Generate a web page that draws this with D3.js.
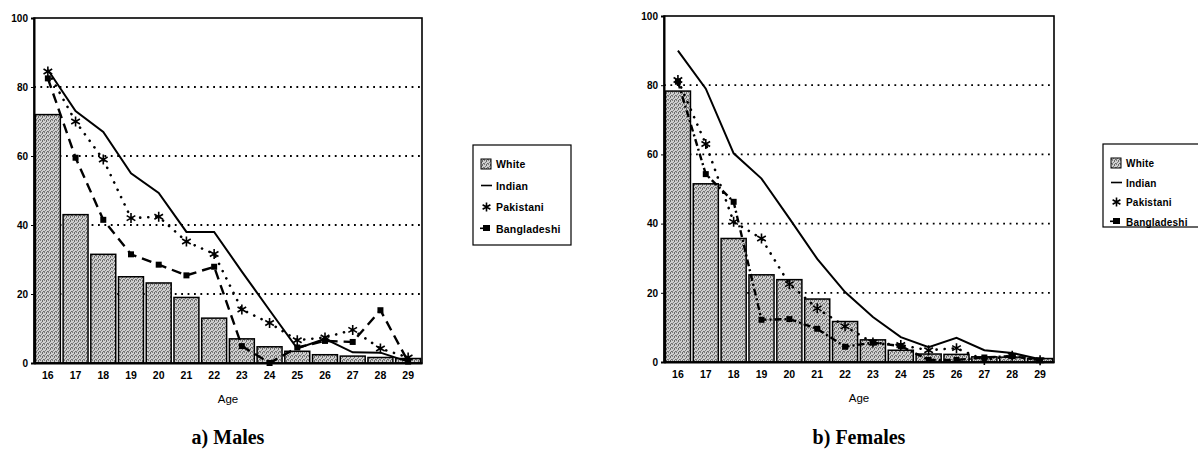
<!DOCTYPE html>
<html>
<head>
<script src="https://cdnjs.cloudflare.com/ajax/libs/d3/7.8.5/d3.min.js"></script>
<style>
  body { margin: 0; background: #fff; }
  svg { display: block; }
  .tick text { font-family: "Liberation Sans", Arial, sans-serif; font-weight: bold; }
</style>
</head>
<body>
<script>
// ages on the x axis
var ages = [16, 17, 18, 19, 20, 21, 22, 23, 24, 25, 26, 27, 28, 29];
var yTicks = [0, 20, 40, 60, 80, 100];
var seriesNames = ["White", "Indian", "Pakistani", "Bangladeshi"];

// a) Males
var maleWhite       = [72, 43, 31.5, 25, 23.2, 19, 13, 7, 4.7, 3.4, 2.4, 2, 1.6, 1.3];
var maleIndian      = [85, 73, 67, 55, 49.3, 38, 38, 26.5, 15.3, 4.2, 7, 3.1, 3, 0.4];
var malePakistani   = [84.5, 70, 59, 42, 42.4, 35.2, 31.6, 15.5, 11.6, 6.6, 7.4, 9.6, 4.2, 1.6];
var maleBangladeshi = [82.5, 59.5, 41.5, 31.5, 28.5, 25.4, 27.9, 4.9, 0, 4.5, 6.4, 6.1, 15.3, 0.4];

// b) Females
var femaleWhite       = [78.3, 51.5, 35.7, 25.2, 23.8, 18.2, 11.7, 6.4, 3.4, 2.3, 2.2, 1.5, 1.4, 1];
var femaleIndian      = [90, 79, 60.3, 53, 41.5, 29.8, 20.2, 13, 7.2, 4.3, 7, 3.4, 2.6, 0.8];
var femalePakistani   = [81.5, 63, 40.5, 35.7, 22.5, 15.5, 10.3, 5.6, 4.9, 3.4, 4, 0.6, 1.8, 0.5];
var femaleBangladeshi = [81, 54.3, 46.3, 12.2, 12.4, 9.6, 4.4, 5.6, 4.6, 0.6, 0.6, 1.3, 1.7, 0.5];

var svg = d3.select("body").append("svg")
  .attr("width", 1198).attr("height", 456);

// stippled grey fill for the bars
var defs = svg.append("defs");
var pat = defs.append("pattern").attr("id", "stipple")
  .attr("width", 4).attr("height", 4).attr("patternUnits", "userSpaceOnUse");
pat.append("rect").attr("width", 4).attr("height", 4).attr("fill", "#cfcfcf");
[[0, 0], [2, 1], [1, 2], [3, 3], [0, 3], [2, 0]].forEach(function(p, i) {
  pat.append("rect").attr("x", p[0]).attr("y", p[1]).attr("width", 1).attr("height", 1)
    .attr("fill", i % 2 ? "#6a6a6a" : "#808080");
});

function asterisk(g, x, y, r) {
  var p = d3.path();
  for (var i = 0; i < 3; i++) {
    var a = Math.PI / 2 + i * Math.PI / 3;
    p.moveTo(x - r * Math.cos(a), y - r * Math.sin(a));
    p.lineTo(x + r * Math.cos(a), y + r * Math.sin(a));
  }
  g.append("path").attr("d", p.toString()).attr("stroke", "#000").attr("stroke-width", 1.6).attr("fill", "none");
}

function drawPanel(o) {
  var x = d3.scaleBand().domain(ages).range([o.left, o.right]).paddingInner(0.1).paddingOuter(0.05);
  var y = d3.scaleLinear().domain([0, 100]).range([o.bottom, o.top]);
  var cx = function(d, i) { return x(ages[i]) + x.bandwidth() / 2; };
  var g = svg.append("g");

  // dotted gridlines
  g.selectAll(".grid").data([20, 40, 60, 80]).enter().append("line")
    .attr("x1", o.left).attr("x2", o.right)
    .attr("y1", function(d) { return y(d); }).attr("y2", function(d) { return y(d); })
    .attr("stroke", "#000").attr("stroke-width", 1.8).attr("stroke-dasharray", "1.8 4.6");

  // bars
  g.selectAll(".bar").data(o.white).enter().append("rect")
    .attr("x", function(d, i) { return x(ages[i]); })
    .attr("y", function(d) { return y(d); })
    .attr("width", x.bandwidth())
    .attr("height", function(d) { return y(0) - y(d); })
    .attr("fill", "url(#stipple)").attr("stroke", "#000").attr("stroke-width", 1.5);

  var line = d3.line().x(cx).y(function(d) { return y(d); });

  g.append("path").datum(o.indian).attr("d", line)
    .attr("fill", "none").attr("stroke", "#000").attr("stroke-width", 2);

  g.append("path").datum(o.pakistani).attr("d", line)
    .attr("fill", "none").attr("stroke", "#000").attr("stroke-width", 2.6)
    .attr("stroke-linecap", "round").attr("stroke-dasharray", "0.1 8");
  o.pakistani.forEach(function(d, i) { asterisk(g, cx(d, i), y(d), 5); });

  g.append("path").datum(o.bangladeshi).attr("d", line)
    .attr("fill", "none").attr("stroke", "#000").attr("stroke-width", 2.4)
    .attr("stroke-dasharray", o.dash);
  g.selectAll(".sq").data(o.bangladeshi).enter().append("rect")
    .attr("x", function(d, i) { return cx(d, i) - 3; })
    .attr("y", function(d) { return y(d) - 3; })
    .attr("width", 6).attr("height", 6).attr("fill", "#000");

  // frame
  g.append("rect").attr("x", o.left).attr("y", o.top)
    .attr("width", o.right - o.left).attr("height", o.bottom - o.top)
    .attr("fill", "none").attr("stroke", "#000").attr("stroke-width", 1.6);

  // axes
  var ya = g.append("g").attr("transform", "translate(" + o.left + ",0)")
    .call(d3.axisLeft(y).tickValues(yTicks).tickSize(3).tickPadding(3));
  ya.select(".domain").attr("stroke-width", 2);
  ya.selectAll("text").style("font-size", "10px");

  var xa = g.append("g").attr("transform", "translate(0," + o.bottom + ")")
    .call(d3.axisBottom(x).tickSize(0).tickPadding(9));
  xa.select(".domain").attr("stroke-width", 2);
  xa.selectAll("text").style("font-size", "10.5px");

  g.append("text").attr("x", (o.left + o.right) / 2).attr("y", o.bottom + 40)
    .attr("text-anchor", "middle")
    .style("font-family", "Liberation Sans, Arial, sans-serif").style("font-size", "11.5px")
    .text("Age");

  g.append("text").attr("x", (o.left + o.right) / 2).attr("y", 444)
    .attr("text-anchor", "middle")
    .style("font-family", "Liberation Serif, Times New Roman, serif").style("font-size", "20px")
    .style("font-weight", "bold").text(o.title);

  // legend
  var L = o.legend;
  var lg = svg.append("g");
  lg.append("rect").attr("x", L.x).attr("y", L.y).attr("width", L.w).attr("height", L.h)
    .attr("fill", "#fff").attr("stroke", "#000").attr("stroke-width", 1.2);
  seriesNames.forEach(function(name, i) {
    var ry = L.y + L.first + i * L.step;
    var sx = L.x + 8;
    if (i === 0) {
      lg.append("rect").attr("x", sx).attr("y", ry - 5).attr("width", 10).attr("height", 10)
        .attr("fill", "url(#stipple)").attr("stroke", "#000").attr("stroke-width", 1);
    } else if (i === 1) {
      lg.append("line").attr("x1", sx).attr("x2", sx + 11).attr("y1", ry).attr("y2", ry)
        .attr("stroke", "#000").attr("stroke-width", 1.6);
    } else if (i === 2) {
      asterisk(lg, sx + 5.5, ry, 4.5);
    } else {
      lg.append("rect").attr("x", sx + 2).attr("y", ry - 3.5).attr("width", 7).attr("height", 6).attr("fill", "#000");
      lg.append("rect").attr("x", sx - 1).attr("y", ry - 1).attr("width", 3).attr("height", 1.6).attr("fill", "#000");
    }
    lg.append("text").attr("x", sx + 15).attr("y", ry + 4)
      .style("font-family", "Liberation Sans, Arial, sans-serif").style("font-size", L.font)
      .style("font-weight", "bold").style("letter-spacing", "0.2px").text(name);
  });
}

drawPanel({
  left: 34, right: 422, top: 18, bottom: 363, title: "a) Males", dash: "10 6",
  white: maleWhite, indian: maleIndian, pakistani: malePakistani, bangladeshi: maleBangladeshi,
  legend: { x: 473, y: 145, w: 98, h: 100, first: 19, step: 21.5, font: "10.5px" }
});

drawPanel({
  left: 664, right: 1054, top: 16, bottom: 362, title: "b) Females", dash: "7 3 2 3",
  white: femaleWhite, indian: femaleIndian, pakistani: femalePakistani, bangladeshi: femaleBangladeshi,
  legend: { x: 1103, y: 144, w: 100, h: 83, first: 19, step: 19.5, font: "10px" }
});
</script>
</body>
</html>
